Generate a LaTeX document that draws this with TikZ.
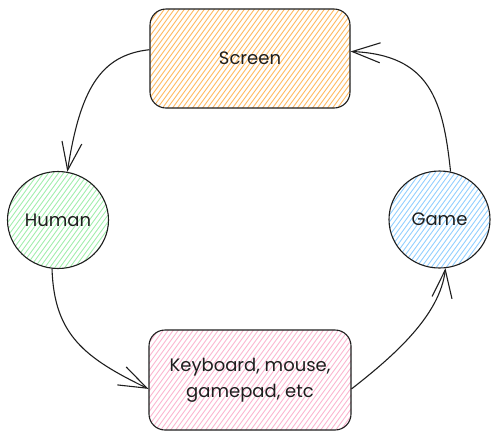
\documentclass[tikz,border=0pt]{standalone}
\usepackage{fontspec}
\setmainfont{Poppins}
\usetikzlibrary{arrows.meta,shapes.geometric}
\definecolor{ink}{HTML}{1E1E1E}
\definecolor{orangeh}{HTML}{FFB85E}
\definecolor{greenh}{HTML}{A3EEAE}
\definecolor{blueh}{HTML}{94D0FF}
\definecolor{pinkh}{HTML}{FBB5CF}
\begin{document}
\begin{tikzpicture}[x=1pt,y=-1pt,
  hatch/.style={path picture={
      \begin{scope}[shift={(path picture bounding box.center)}]
        \foreach \i in {-300,-295,...,300}{\draw[#1,line width=0.9pt] (\i-80,110) -- (\i+80,-110);}
      \end{scope}}},
  labelfont/.style={font=\fontsize{18}{26}\selectfont, text=ink, align=center},
  box/.style={draw=ink, line width=1.1pt, rounded corners=16pt, minimum width=200pt, minimum height=99pt, labelfont},
  blob/.style={ellipse, draw=ink, line width=1.1pt, minimum width=101pt, minimum height=97pt, inner sep=0pt, labelfont},
  conn/.style={draw=ink, line width=1.1pt, -{Straight Barb[length=28pt,width=20pt]}}
]
\useasboundingbox (0,0) rectangle (500,440);

\node[box, hatch=orangeh] (screen) at (250,58.5) {Screen};
\node[box, hatch=pinkh, minimum width=202pt, minimum height=100pt] (kb) at (250,380) {Keyboard, mouse,\\gamepad, etc};
\node[blob, hatch=greenh] (human) at (58,220) {Human};
\node[blob, hatch=blueh] (game) at (439.5,219.5) {Game};

\draw[conn] (screen.175) .. controls (100,55) and (80,90) .. (human.79);
\draw[conn] (human.263) .. controls (54,335) and (85,358) .. (kb.185);
\draw[conn] (kb.355) .. controls (395,355) and (440,315) .. (game.277);
\draw[conn] (game.77) .. controls (443,100) and (430,55) .. (screen.4);
\end{tikzpicture}
\end{document}
